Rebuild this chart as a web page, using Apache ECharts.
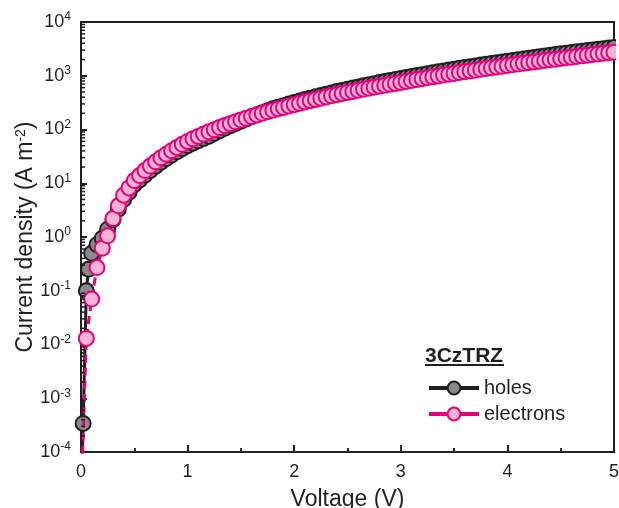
<!DOCTYPE html>
<html>
<head>
<meta charset="utf-8">
<script src="https://cdn.jsdelivr.net/npm/echarts@6/dist/echarts.min.js"></script>
<style>
html,body{margin:0;padding:0;background:#fff;}
#chart{width:619px;height:508px;}
</style>
</head>
<body>
<div id="chart"></div>
<script>
// ---- Data ----
const electronVoltage = [0.00,0.05,0.10,0.15,0.20,0.25,0.30,0.35,0.40,0.45,0.50,
  0.55,0.60,0.65,0.70,0.75,0.80,0.85,0.90,0.95,1.00,
  1.05,1.10,1.15,1.20,1.25,1.30,1.35,1.40,1.45,1.50,
  1.55,1.60,1.65,1.70,1.75,1.80,1.85,1.90,1.95,2.00,
  2.05,2.10,2.15,2.20,2.25,2.30,2.35,2.40,2.45,2.50,
  2.55,2.60,2.65,2.70,2.75,2.80,2.85,2.90,2.95,3.00,
  3.05,3.10,3.15,3.20,3.25,3.30,3.35,3.40,3.45,3.50,
  3.55,3.60,3.65,3.70,3.75,3.80,3.85,3.90,3.95,4.00,
  4.05,4.10,4.15,4.20,4.25,4.30,4.35,4.40,4.45,4.50,
  4.55,4.60,4.65,4.70,4.75,4.80,4.85,4.90,4.95,5.00];
const electronCurrent = [1e-5,0.013,0.07,0.27,0.62,1.05,2.2,3.8,6.0,8.2,11.2,
  13.9,17.2,20.9,25.0,29.7,34.7,40.3,46.3,52.9,60,
  67,74.4,82.3,90.6,99.3,108.5,118.2,128.3,138.9,150,
  161.6,173.9,186.6,199.7,213.4,227.8,242.5,257.8,273.4,290,
  307,325,343,362,382,402,423,444,467,489,
  512,536,561,586,611,638,665,693,721,750,
  782,815,848,882,918,953,990,1028,1067,1106,
  1146,1187,1229,1272,1316,1361,1407,1453,1500,1550,
  1599,1650,1702,1755,1810,1866,1921,1979,2037,2096,
  2157,2218,2281,2344,2408,2474,2541,2609,2677,2750];

const holeVoltage = [0.00,0.02,0.05,0.07,0.10,0.15,0.20,0.25,0.30,0.35,0.40,0.45,0.50,
  0.55,0.60,0.65,0.70,0.75,0.80,0.85,0.90,0.95,1.00,
  1.05,1.10,1.15,1.20,1.25,1.30,1.35,1.40,1.45,1.50,
  1.55,1.60,1.65,1.70,1.75,1.80,1.85,1.90,1.95,2.00,
  2.05,2.10,2.15,2.20,2.25,2.30,2.35,2.40,2.45,2.50,
  2.55,2.60,2.65,2.70,2.75,2.80,2.85,2.90,2.95,3.00,
  3.05,3.10,3.15,3.20,3.25,3.30,3.35,3.40,3.45,3.50,
  3.55,3.60,3.65,3.70,3.75,3.80,3.85,3.90,3.95,4.00,
  4.05,4.10,4.15,4.20,4.25,4.30,4.35,4.40,4.45,4.50,
  4.55,4.60,4.65,4.70,4.75,4.80,4.85,4.90,4.95,5.00];
const holeCurrent = [1e-5,3.4e-4,0.1,0.25,0.5,0.72,0.95,1.4,2.1,3.3,5.0,6.8,9.4,
  11.5,14.3,17.3,20.8,24.7,28.8,33.4,38.4,43.9,49.8,
  55.6,61.8,68.3,75.2,84.4,94.4,105,117,129,143,
  157,172,189,206,224,242,260,278,298,319,
  340,361,383,406,430,454,480,507,534,562,
  591,620,650,681,712,745,779,813,848,885,
  924,965,1006,1048,1092,1137,1182,1230,1278,1327,
  1375,1424,1475,1526,1579,1633,1688,1744,1800,1860,
  1922,1987,2053,2120,2190,2262,2332,2406,2481,2557,
  2632,2706,2783,2860,2938,3018,3100,3183,3266,3355];

const seriesNames = ['holes', 'electrons'];
const legendTitle = '3CzTRZ';
const xAxisTitle = 'Voltage (V)';
const yDecades = [-4,-3,-2,-1,0,1,2,3,4];

// ---- Chart ----
const FONT = '"Liberation Sans", Arial, Helvetica, sans-serif';
const INK = '#231f20';
const PINK = '#e5007d';

const minorY = [];
for (let d = yDecades[0]; d < yDecades[yDecades.length - 1]; d++) {
  for (let k = 2; k <= 9; k++) minorY.push([0, k * Math.pow(10, d)]);
}

const chart = echarts.init(document.getElementById('chart'), null, {renderer: 'canvas'});
chart.setOption({
  animation: false,
  backgroundColor: '#fff',
  grid: {left: 81, right: 5, top: 22, bottom: 56, show: true, borderColor: INK, borderWidth: 2,
    backgroundColor: 'transparent', containLabel: false, outerBoundsMode: 'none'},
  legend: {
    data: [
      {name: seriesNames[0]},
      {name: seriesNames[1], lineStyle: {type: 'solid'}}
    ],
    orient: 'vertical',
    left: 427, top: 378,
    itemWidth: 50, itemHeight: 16, itemGap: 6,
    padding: 0,
    selectedMode: false,
    lineStyle: {width: 4},
    textStyle: {fontSize: 20, color: INK, fontFamily: FONT}
  },
  graphic: [
    {type: 'text', left: 425, top: 346, style: {text: legendTitle, font: 'bold 21px ' + FONT, fill: INK}},
    {type: 'line', shape: {x1: 425, y1: 365, x2: 504, y2: 365}, style: {stroke: INK, lineWidth: 2}},
    // mask marker overflow beyond the right frame (the reference plot is clipped there)
    {type: 'rect', z: 100, shape: {x: 616, y: 0, width: 10, height: 450}, style: {fill: '#fff'}}
  ],
  xAxis: {
    type: 'value', min: 0, max: 5, interval: 1,
    name: xAxisTitle, nameLocation: 'middle', nameGap: 36,
    nameTextStyle: {fontSize: 23, color: INK, fontFamily: FONT},
    axisLine: {lineStyle: {color: INK, width: 2}},
    axisTick: {inside: true, length: 7, lineStyle: {color: INK, width: 2}},
    minorTick: {show: true, splitNumber: 2, length: 4, lineStyle: {color: INK, width: 2}},
    splitLine: {show: false},
    axisLabel: {margin: 11, fontSize: 18, color: INK, fontFamily: FONT}
  },
  yAxis: {
    type: 'log', logBase: 10, min: 1e-4, max: 1e4,
    name: 'Current density (A m{sup|-2})', nameLocation: 'middle', nameGap: 44,
    nameMoveOverlap: false,
    nameTextStyle: {fontSize: 23, color: INK, fontFamily: FONT,
      rich: {sup: {fontSize: 14, color: INK, fontFamily: FONT, verticalAlign: 'top', lineHeight: 14}}},
    axisLine: {lineStyle: {color: INK, width: 2}},
    axisTick: {inside: true, length: 6, lineStyle: {color: INK, width: 2}},
    minorTick: {show: false},
    splitLine: {show: false},
    axisLabel: {
      margin: 10, color: INK, fontFamily: FONT,
      formatter: function (v) {
        const e = Math.round(Math.log10(v));
        return '{b|10}{s|' + e + '}';
      },
      rich: {
        b: {fontSize: 18, color: INK, fontFamily: FONT, lineHeight: 22},
        s: {fontSize: 12, color: INK, fontFamily: FONT, verticalAlign: 'top', lineHeight: 12}
      }
    }
  },
  series: [
    {
      name: seriesNames[0], type: 'line', z: 2,
      data: holeVoltage.map((v, i) => [v, holeCurrent[i]]),
      symbol: 'circle', symbolSize: 15,
      lineStyle: {color: INK, width: 3},
      itemStyle: {color: '#8a8a8a', borderColor: INK, borderWidth: 2}
    },
    {
      name: seriesNames[1], type: 'line', z: 3,
      data: electronVoltage.map((v, i) => [v, electronCurrent[i]]),
      symbol: 'circle', symbolSize: 15,
      lineStyle: {color: PINK, width: 3, type: [8, 5]},
      itemStyle: {color: '#f6b3d2', borderColor: PINK, borderWidth: 2}
    },
    {
      type: 'custom', silent: true, z: 5, clip: false,
      data: minorY,
      renderItem: function (params, api) {
        const p = api.coord([0, api.value(1)]);
        return {type: 'line', shape: {x1: p[0], y1: p[1], x2: p[0] + 4, y2: p[1]},
          style: {stroke: INK, lineWidth: 1.5}};
      }
    }
  ]
});
</script>
</body>
</html>
